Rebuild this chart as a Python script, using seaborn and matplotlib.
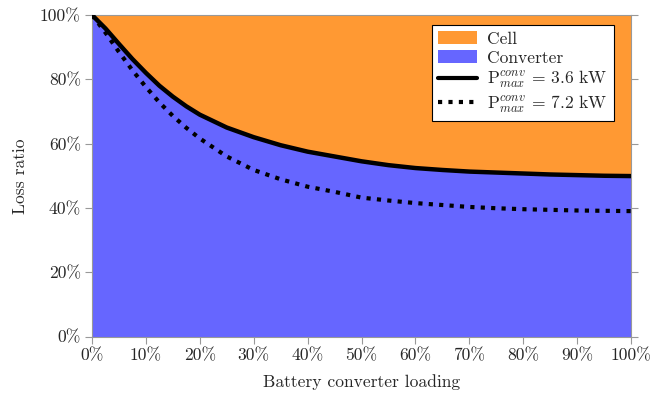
import numpy as np
import pandas as pd
import matplotlib
matplotlib.use("Agg")
import matplotlib.pyplot as plt
import seaborn as sns
from matplotlib.patches import Patch
from matplotlib.lines import Line2D

# battery converter loading in %
loading = [0, 2.5, 5, 7.5, 10, 12.5, 15, 17.5, 20, 25, 30, 35, 40, 45, 50, 55, 60, 65, 70, 75, 80, 85, 90, 95, 100]
# loss ratio (converter share) in %
ratio_36kw = [100, 95.8, 91, 86.3, 82, 78, 74.6, 71.6, 69, 65, 62, 59.5, 57.5, 56, 54.5, 53.3, 52.4, 51.8, 51.3, 51, 50.7, 50.4, 50.2, 50, 49.9]
ratio_72kw = [100, 94.5, 88.5, 82.8, 77.6, 72.8, 68.6, 64.9, 61.6, 56, 51.8, 48.9, 46.6, 45, 43.2, 42.3, 41.5, 40.9, 40.3, 39.9, 39.6, 39.4, 39.2, 39.1, 39.0]

xticks = [0, 10, 20, 30, 40, 50, 60, 70, 80, 90, 100]
yticks = [0, 20, 40, 60, 80, 100]

CELL = "#ff9933"
CONV = "#6666ff"
FS = 12.6


def main():
    sns.set_style("white")
    plt.rcParams['font.family'] = ['cmr10', 'DejaVu Serif']
    plt.rcParams['mathtext.fontset'] = 'cm'
    plt.rcParams['axes.formatter.use_mathtext'] = True

    df = pd.DataFrame({'loading': loading, 'p36': ratio_36kw, 'p72': ratio_72kw})

    fig = plt.figure(figsize=(6.53, 4.01), dpi=100)
    ax = fig.add_axes([0.1409, 0.1608, 0.8254, 0.8018])

    ax.fill_between(df['loading'], df['p36'], 100, color=CELL, lw=0, zorder=1)
    ax.fill_between(df['loading'], 0, df['p36'], color=CONV, lw=0, zorder=1)

    sns.lineplot(data=df, x='loading', y='p36', ax=ax, color='black', lw=3.2, zorder=3)
    sns.lineplot(data=df, x='loading', y='p72', ax=ax, color='black', lw=3,
                 zorder=3).lines[-1].set_dashes((1, 1.5))

    ax.set_xlim(0, 100)
    ax.set_ylim(0, 100)
    ax.set_xticks(xticks)
    ax.set_xticklabels([f"{t}%" for t in xticks])
    ax.set_yticks(yticks)
    ax.set_yticklabels([f"{t}%" for t in yticks])
    ax.tick_params(axis='both', direction='out', length=5, width=0.8, color='#999999',
                   labelsize=FS, pad=3)
    ax.tick_params(axis='y', right=True, left=True)
    ax.tick_params(axis='x', bottom=True, top=False)
    for s in ax.spines.values():
        s.set_color('#999999')
        s.set_linewidth(0.8)

    ax.set_xlabel("Battery converter loading", fontsize=FS, labelpad=8)
    ax.set_ylabel("Loss ratio", fontsize=FS, labelpad=9)

    handles = [
        Patch(facecolor=CELL, edgecolor='none', label='Cell'),
        Patch(facecolor=CONV, edgecolor='none', label='Converter'),
        Line2D([], [], color='black', lw=3, label=r'$\mathrm{P}^{conv}_{max}$ = 3.6 kW'),
        Line2D([], [], color='black', lw=3, dashes=(1, 1.5), label=r'$\mathrm{P}^{conv}_{max}$ = 7.2 kW'),
    ]
    leg = ax.legend(handles=handles, loc='upper right', bbox_to_anchor=(0.9685, 0.969),
                    borderaxespad=0, fontsize=FS, frameon=True, fancybox=False,
                    handlelength=2.2, handleheight=0.8, labelspacing=0.18,
                    borderpad=0.35, handletextpad=0.6)
    leg.get_frame().set_edgecolor('black')
    leg.get_frame().set_linewidth(0.8)
    leg.get_frame().set_alpha(1)
    leg.set_zorder(5)

    fig.savefig("out.png", dpi=100)


if __name__ == "__main__":
    main()
